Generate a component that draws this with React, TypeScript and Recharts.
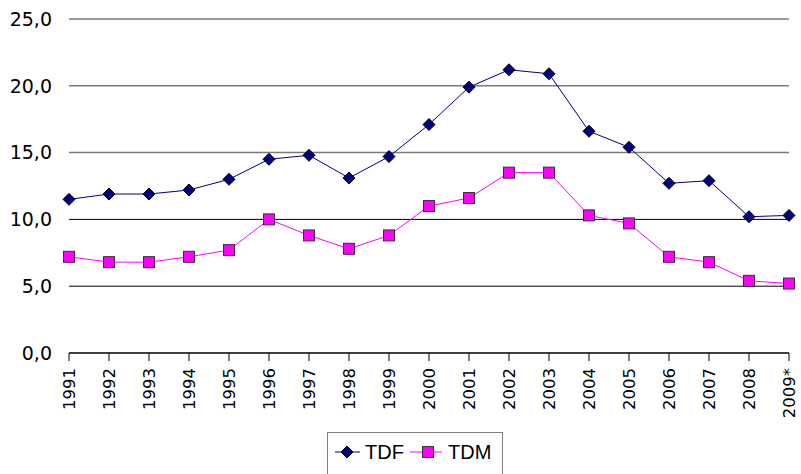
import React from "react";
import {
  LineChart,
  Line,
  XAxis,
  YAxis,
  CartesianGrid,
  Legend,
} from "recharts";

const years = [
  "1991", "1992", "1993", "1994", "1995", "1996", "1997", "1998", "1999", "2000",
  "2001", "2002", "2003", "2004", "2005", "2006", "2007", "2008", "2009*",
];
const tdf = [
  11.5, 11.9, 11.9, 12.2, 13.0, 14.5, 14.8, 13.1, 14.7, 17.1, 19.9, 21.2, 20.9,
  16.6, 15.4, 12.7, 12.9, 10.2, 10.3,
];
const tdm = [
  7.2, 6.8, 6.8, 7.2, 7.7, 10.0, 8.8, 7.8, 8.8, 11.0, 11.6, 13.5, 13.5, 10.3,
  9.7, 7.2, 6.8, 5.4, 5.2,
];
const yTicks = [0, 5, 10, 15, 20, 25];

const data = years.map((year, i) => ({ year, TDF: tdf[i], TDM: tdm[i] }));

const axisFont = "'DejaVu Sans', Verdana, sans-serif";

const Diamond = (props: any) => {
  const { cx, cy } = props;
  if (cx == null || cy == null) return null;
  const s = 6;
  return (
    <polygon
      points={`${cx},${cy - s} ${cx + s},${cy} ${cx},${cy + s} ${cx - s},${cy}`}
      fill="#000080"
      stroke="#000"
      strokeWidth={1}
    />
  );
};

const Square = (props: any) => {
  const { cx, cy } = props;
  if (cx == null || cy == null) return null;
  const s = 5.5;
  return (
    <rect
      x={cx - s}
      y={cy - s}
      width={s * 2}
      height={s * 2}
      fill="#FF00FF"
      stroke="#333"
      strokeWidth={1}
    />
  );
};

const YearTick = (props: any) => {
  const { x, y, payload } = props;
  return (
    <text
      x={x}
      y={y}
      transform={`rotate(-90, ${x}, ${y})`}
      textAnchor="end"
      dominantBaseline="central"
      fontFamily={axisFont}
      fontSize={16.5}
      fill="#000"
    >
      {payload.value}
    </text>
  );
};

const GridLine = (props: any) => {
  const { x1, x2, y1, y2 } = props;
  // upper lines look grey in the original, lower ones black
  const grey = y1 < 200;
  return (
    <line
      x1={x1}
      x2={x2}
      y1={y1}
      y2={y2}
      stroke={grey ? "#7a7a7a" : "#000"}
      strokeWidth={grey ? 1.5 : 1}
    />
  );
};

const LegendBox = () => (
  <div
    style={{
      width: 176,
      height: 42,
      boxSizing: "border-box",
      borderTop: "1px solid #808080",
      borderLeft: "1px solid #808080",
      borderRight: "1px solid #808080",
    }}
  >
    <svg width={174} height={41}>
      <line x1={7} x2={32} y1={19} y2={19} stroke="#000080" strokeWidth={1} />
      <Diamond cx={19} cy={19} />
      <text
        x={37}
        y={19}
        dominantBaseline="central"
        fontFamily="'Liberation Sans', Arial, sans-serif"
        fontSize={20}
        fill="#000"
      >
        TDF
      </text>
      <line x1={82} x2={114} y1={19} y2={19} stroke="#FF00FF" strokeWidth={1} />
      <Square cx={100} cy={19} />
      <text
        x={120}
        y={19}
        dominantBaseline="central"
        fontFamily="'Liberation Sans', Arial, sans-serif"
        fontSize={20}
        fill="#000"
      >
        TDM
      </text>
    </svg>
  </div>
);

const App = () => {
  return (
    <div style={{ position: "absolute", left: 0, top: 0, background: "#fff" }}>
      <LineChart
        width={801}
        height={474}
        data={data}
        margin={{ top: 19, right: 12, left: 0, bottom: 0 }}
      >
        <CartesianGrid vertical={false} horizontal={<GridLine />} />
        <XAxis
          dataKey="year"
          height={79}
          interval={0}
          tick={<YearTick />}
          tickSize={8}
          tickMargin={7}
          axisLine={{ stroke: "#000" }}
          tickLine={{ stroke: "#000" }}
        />
        <YAxis
          width={69}
          domain={[0, 25]}
          ticks={yTicks}
          axisLine={false}
          tickLine={false}
          tickSize={0}
          tickMargin={17}
          tickFormatter={(v: number) => v.toFixed(1).replace(".", ",")}
          tick={{ fill: "#000", fontFamily: axisFont, fontSize: 19 }}
        />
        <Legend
          verticalAlign="bottom"
          content={<LegendBox />}
          wrapperStyle={{ left: 327, width: 176, height: 42 }}
        />
        <Line
          type="linear"
          dataKey="TDF"
          stroke="#000080"
          strokeWidth={1}
          dot={<Diamond />}
          activeDot={false}
          isAnimationActive={false}
        />
        <Line
          type="linear"
          dataKey="TDM"
          stroke="#FF00FF"
          strokeWidth={1}
          dot={<Square />}
          activeDot={false}
          isAnimationActive={false}
        />
      </LineChart>
    </div>
  );
};

export default App;
